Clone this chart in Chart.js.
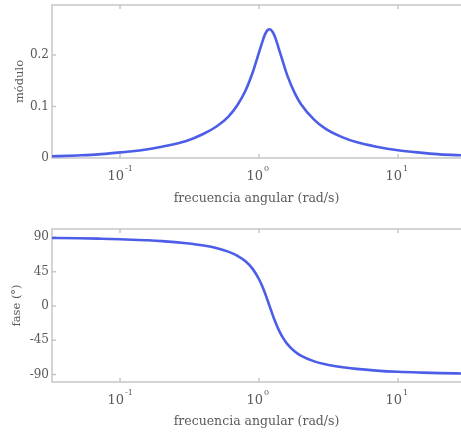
<!DOCTYPE html>
<html>
<head>
<meta charset="utf-8">
<script src="https://cdn.jsdelivr.net/npm/chart.js@4.4.0/dist/chart.umd.min.js"></script>
<style>
html, body { margin: 0; padding: 0; background: #fff; overflow: hidden; }
canvas { display: block; }
</style>
</head>
<body>
<canvas id="grafModulo" width="461" height="216"></canvas>
<canvas id="grafFase" width="461" height="216"></canvas>
<script>
//DATOS (frecuencia en rad/s)
const frecuencias = [0.03, 0.05, 0.07, 0.1, 0.15, 0.2, 0.3, 0.4, 0.5, 0.6, 0.7, 0.8, 0.9, 1.0, 1.05, 1.1, 1.15, 1.2, 1.25, 1.3, 1.35, 1.4, 1.5, 1.6, 1.8, 2.0, 2.5, 3, 4, 5, 7, 10, 15, 20, 30];
const modulo = [0.003, 0.005, 0.007, 0.011, 0.016, 0.022, 0.033, 0.047, 0.062, 0.080, 0.103, 0.131, 0.166, 0.205, 0.223, 0.239, 0.248, 0.250, 0.245, 0.236, 0.223, 0.209, 0.183, 0.160, 0.127, 0.105, 0.074, 0.057, 0.040, 0.031, 0.022, 0.015, 0.010, 0.007, 0.005];
const fase = [89.3, 88.8, 88.3, 87.6, 86.3, 85.1, 82.3, 79.3, 75.7, 71.3, 65.8, 58.5, 48.6, 35.0, 26.7, 17.5, 7.8, -1.9, -11.1, -19.5, -26.8, -33.1, -43.1, -50.2, -59.6, -65.3, -72.9, -76.8, -80.7, -82.8, -85.0, -86.6, -87.7, -88.3, -88.9];

//Marcas de los ejes
const ticksFrecuencia = [0.1, 1, 10];
const exponentes = ['-1', '0', '1'];
const ticksModulo = [0, 0.1, 0.2];
const ticksFase = [90, 45, 0, -45, -90];

const FUENTE = '"DejaVu Serif", serif';
const GRIS_TEXTO = '#5a5a5a';
const GRIS_EJE = '#c6c6c6';
const AZUL = '#4c5ee8';

//PLUGIN QUE DIBUJA EL MARCO Y LAS MARCAS AL ESTILO MATLAB
const marcoMatlab = {
    id: 'marcoMatlab',
    beforeDatasetsDraw(chart) {
        const {ctx, chartArea: a, scales: {x, y}} = chart;
        ctx.save();
        ctx.strokeStyle = GRIS_EJE;
        ctx.lineWidth = 1.5;
        ctx.beginPath();
        ctx.moveTo(a.right, a.top);
        ctx.lineTo(a.left, a.top);
        ctx.lineTo(a.left, a.bottom);
        ctx.lineTo(a.right, a.bottom);
        for (const t of x.ticks) {
            const px = x.getPixelForValue(t.value);
            ctx.moveTo(px, a.top); ctx.lineTo(px, a.top + 4);
            ctx.moveTo(px, a.bottom); ctx.lineTo(px, a.bottom - 4);
        }
        for (const t of y.ticks) {
            const py = y.getPixelForValue(t.value);
            ctx.moveTo(a.left, py); ctx.lineTo(a.left + 4, py);
        }
        ctx.stroke();
        ctx.restore();
    },
    afterDraw(chart) {
        const {ctx, chartArea: a, scales: {x}} = chart;
        ctx.save();
        ctx.fillStyle = GRIS_TEXTO;
        ctx.textBaseline = 'middle';
        x.ticks.forEach((t, i) => {
            const px = x.getPixelForValue(t.value);
            ctx.font = '13px ' + FUENTE;
            ctx.textAlign = 'right';
            ctx.fillText('10', px + 4, a.bottom + 19);
            ctx.font = '8px ' + FUENTE;
            ctx.textAlign = 'left';
            ctx.fillText(exponentes[i], px + 5, a.bottom + 11);
        });
        ctx.restore();
    }
};

//FUNCION QUE CREA CADA UNA DE LAS DOS GRAFICAS
function dibujarGrafica(idCanvas, valores, ticksY, minY, maxY, tituloY, cfg) {
    const ctx = document.getElementById(idCanvas);
    return new Chart(ctx, {
        type: 'line',
        data: {
            datasets: [{
                data: frecuencias.map((f, i) => ({x: f, y: valores[i]})),
                borderColor: AZUL,
                borderWidth: 2.6,
                pointRadius: 0,
                cubicInterpolationMode: 'monotone',
                fill: false
            }]
        },
        options: {
            responsive: false,
            animation: false,
            layout: {padding: {top: cfg.arriba, left: 0, right: 0, bottom: 0}},
            plugins: {legend: {display: false}, tooltip: {enabled: false}},
            scales: {
                x: {
                    type: 'logarithmic',
                    min: 0.0324,
                    max: 28.4,
                    afterBuildTicks: s => { s.ticks = ticksFrecuencia.map(v => ({value: v})); },
                    afterFit: s => { s.height = cfg.altoX; s.paddingLeft = 0; s.paddingRight = 0; },
                    ticks: {display: false},
                    grid: {display: false},
                    border: {display: false},
                    title: {
                        display: true,
                        text: 'frecuencia angular (rad/s)',
                        color: GRIS_TEXTO,
                        font: {family: FUENTE, size: 12.5},
                        padding: {top: 0, bottom: cfg.padTituloX}
                    }
                },
                y: {
                    min: minY,
                    max: maxY,
                    afterBuildTicks: s => { s.ticks = ticksY.map(v => ({value: v})); },
                    afterFit: s => { s.width = 52; s.paddingTop = 0; s.paddingBottom = 0; },
                    ticks: {
                        color: GRIS_TEXTO,
                        padding: 3,
                        font: {family: FUENTE, size: 12},
                        callback: v => String(v)
                    },
                    grid: {display: false, drawTicks: false},
                    border: {display: false},
                    title: {
                        display: true,
                        text: tituloY,
                        color: GRIS_TEXTO,
                        font: {family: FUENTE, size: 11.5},
                        padding: {top: cfg.padTituloY, bottom: 0}
                    }
                }
            }
        },
        plugins: [marcoMatlab]
    });
}

//INVOCACION DE FUNCIONES
dibujarGrafica('grafModulo', modulo, ticksModulo, 0, 0.297, 'módulo',
    {arriba: 5, altoX: 58, padTituloX: 10, padTituloY: 13});
dibujarGrafica('grafFase', fase, ticksFase, -100, 101, 'fase (°)',
    {arriba: 13, altoX: 50, padTituloX: 3, padTituloY: 10});
</script>
</body>
</html>
